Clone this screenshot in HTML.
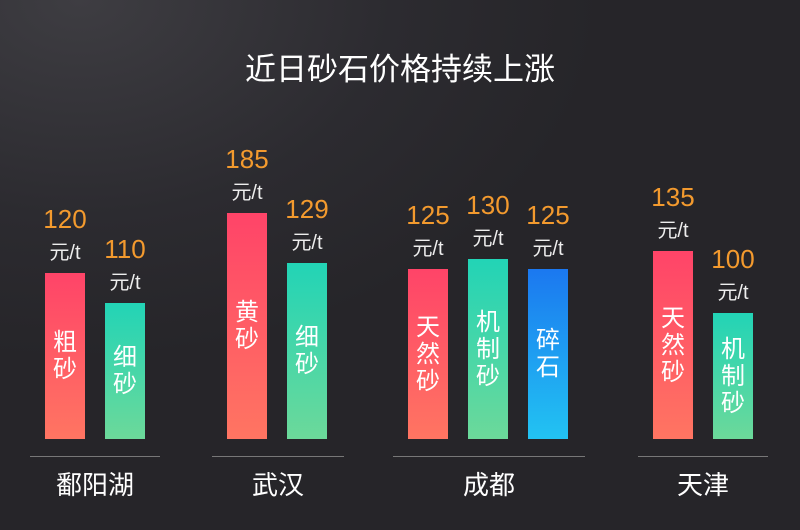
<!DOCTYPE html>
<html><head><meta charset="utf-8"><style>
*{margin:0;padding:0}
body{width:800px;height:530px;overflow:hidden;position:relative;font-family:"Liberation Sans","Noto Sans CJK SC",sans-serif;
background:radial-gradient(ellipse 520px 360px at 80px 0px,#3e3d42 0%,#2c2b30 60%,#262529 100%);}
.t{position:absolute;left:0;width:800px;top:44px;text-align:center;color:#fff;font-size:31px}
.bar{position:absolute;width:40px;bottom:91px;color:#fff;font-size:24px;line-height:27px;display:flex;align-items:center;justify-content:center;text-align:center}
.r{background:linear-gradient(#ff4468,#ff7562)}
.g{background:linear-gradient(#22d4b6,#6cd99a)}
.b{background:linear-gradient(#1b78f0,#22c3f2)}
.n{position:absolute;width:80px;text-align:center;color:#f39a2e;font-size:26px}
.u{position:absolute;width:80px;text-align:center;color:#eee;font-size:20px}
.ln{position:absolute;top:456px;height:1px;background:#777}
.gl{position:absolute;top:465px;color:#fff;font-size:26px;text-align:center}
</style></head><body>
<div class="t">近日砂石价格持续上涨</div>

<div class="bar r" style="left:45px;top:273px">粗<br>砂</div>
<div class="n" style="left:25px;top:204px">120</div><div class="u" style="left:25px;top:236px">元/t</div>
<div class="bar g" style="left:105px;top:303px">细<br>砂</div>
<div class="n" style="left:85px;top:234px">110</div><div class="u" style="left:85px;top:266px">元/t</div>

<div class="bar r" style="left:227px;top:213px">黄<br>砂</div>
<div class="n" style="left:207px;top:144px">185</div><div class="u" style="left:207px;top:176px">元/t</div>
<div class="bar g" style="left:287px;top:263px">细<br>砂</div>
<div class="n" style="left:267px;top:194px">129</div><div class="u" style="left:267px;top:226px">元/t</div>

<div class="bar r" style="left:408px;top:269px">天<br>然<br>砂</div>
<div class="n" style="left:388px;top:200px">125</div><div class="u" style="left:388px;top:232px">元/t</div>
<div class="bar g" style="left:468px;top:259px">机<br>制<br>砂</div>
<div class="n" style="left:448px;top:190px">130</div><div class="u" style="left:448px;top:222px">元/t</div>
<div class="bar b" style="left:528px;top:269px">碎<br>石</div>
<div class="n" style="left:508px;top:200px">125</div><div class="u" style="left:508px;top:232px">元/t</div>

<div class="bar r" style="left:653px;top:251px">天<br>然<br>砂</div>
<div class="n" style="left:633px;top:182px">135</div><div class="u" style="left:633px;top:214px">元/t</div>
<div class="bar g" style="left:713px;top:313px">机<br>制<br>砂</div>
<div class="n" style="left:693px;top:244px">100</div><div class="u" style="left:693px;top:276px">元/t</div>

<div class="ln" style="left:30px;width:130px"></div>
<div class="ln" style="left:212px;width:132px"></div>
<div class="ln" style="left:393px;width:192px"></div>
<div class="ln" style="left:638px;width:130px"></div>
<div class="gl" style="left:30px;width:130px">鄱阳湖</div>
<div class="gl" style="left:212px;width:132px">武汉</div>
<div class="gl" style="left:393px;width:192px">成都</div>
<div class="gl" style="left:638px;width:130px">天津</div>
</body></html>
